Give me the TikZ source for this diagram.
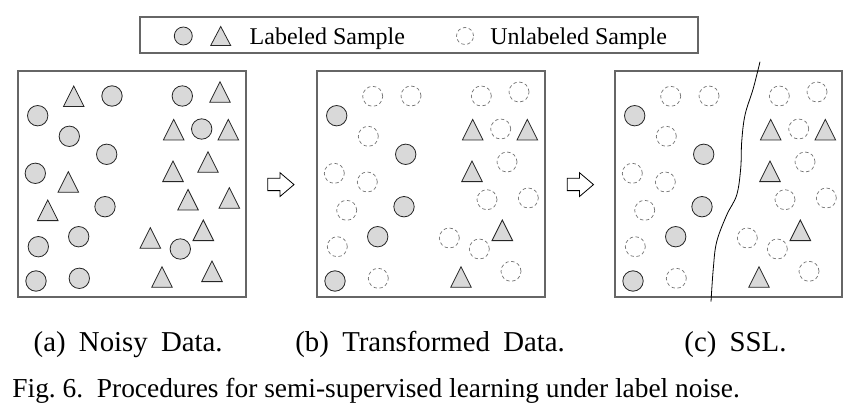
\documentclass[tikz,border=0pt]{standalone}
\usepackage{fontspec}
\setmainfont{Liberation Serif}
\newfontfamily\subcapfont[WordSpace=1.85]{Liberation Serif}
\newcommand\labc[2]{\draw[labstyle] (#1,#2) circle[radius=10.2pt];}
\newcommand\unlc[2]{\draw[unlstyle] (#1,#2) circle[radius=10pt];}
\newcommand\labt[2]{\draw[labstyle] ({#1-10.3},{#2+10.3}) -- (#1,{#2-10.3}) -- ({#1+10.3},{#2+10.3}) -- cycle;}
\newcommand\commonlabeled{%
  \labc{19.7}{115.7}\labc{88.7}{154.3}\labc{87}{206.7}\labc{60.7}{236.7}\labc{18}{281}%
  \labt{155.7}{129.7}\labt{210.3}{129.7}\labt{155}{171.3}\labt{185.3}{230.3}\labt{144}{277}}
\newcommand\commonunlabeled{%
  \unlc{94}{96}\unlc{51.3}{136.3}\unlc{17.3}{173.3}\unlc{20.3}{246.7}\unlc{61.3}{278.3}%
  \unlc{164.3}{96}\unlc{183.7}{129}\unlc{162.3}{249}%
  \unlc{55.7}{96.3}\unlc{50.3}{182}\unlc{29.7}{210.3}\unlc{202}{92}\unlc{190}{162}%
  \unlc{170}{199.7}\unlc{211.3}{198}\unlc{132.3}{238}\unlc{194}{271.3}}
\begin{document}
\frenchspacing
\begin{tikzpicture}[x=1pt,y=-1pt,
  panelbox/.style={draw=black!60,line width=1.2pt},
  labstyle/.style={draw=black!85,fill=black!15,line width=0.8pt},
  unlstyle/.style={draw=black!55,line width=0.7pt,dash pattern=on 3.4pt off 2.6pt},
  blockarrow/.style={draw=black,line width=0.8pt,fill=white},
  legtext/.style={anchor=base west,inner sep=0pt,font=\fontsize{24}{28}\selectfont},
  subcap/.style={anchor=base west,inner sep=0pt,font=\subcapfont\fontsize{28.8}{32}\selectfont},
  figcap/.style={anchor=base west,inner sep=0pt,font=\fontsize{27.4}{32}\selectfont},
]
\useasboundingbox (0,0) rectangle (866,414);
% legend
\draw[panelbox] (140,17) rectangle (698,53);
\draw[labstyle] (183.3,36) circle[radius=9pt];
\draw[labstyle] (210.7,45.5) -- (220.7,26.5) -- (230.7,45.5) -- cycle;
\node[legtext] (leglab) at (249.5,45) {Labeled Sample};
\draw[unlstyle] (465,36) circle[radius=8.5pt];
\node[legtext] (legunl) at (490.2,45) {Unlabeled Sample};
% panel (a)
\draw[panelbox] (18,71) rectangle (246,297);
\begin{scope}[xshift=18pt]
  \commonlabeled
  \labc{94}{96}\labc{51.3}{136.3}\labc{17.3}{173.3}\labc{20.3}{246.7}\labc{61.3}{278.3}
  \labc{164.3}{96}\labc{183.7}{129}\labc{162.3}{249}
  \labt{55.7}{96.3}\labt{50.3}{182}\labt{29.7}{210.3}\labt{202}{92}\labt{190}{162}
  \labt{170}{199.7}\labt{211.3}{198}\labt{132.3}{238}\labt{194}{271.3}
\end{scope}
% panel (b)
\draw[panelbox] (317,71) rectangle (545,297);
\begin{scope}[xshift=317pt]
  \commonunlabeled
  \commonlabeled
\end{scope}
% panel (c)
\draw[panelbox] (615,71) rectangle (842,297);
\begin{scope}[xshift=615pt]
  \commonunlabeled
  \commonlabeled
\end{scope}
\draw[line width=0.8pt] plot[smooth,tension=0.6] coordinates {(760,61.7) (753.3,88.3) (745,115) (741.7,141.7) (740.7,168.3) (736.7,195) (726.7,215) (716.7,241.7) (713.3,268.3) (711,301.7)};
% block arrows
\draw[blockarrow] (267.7,178.3) -- (280,178.3) -- (280,172.7) -- (294,184.6) -- (280,196.5) -- (280,190.6) -- (267.7,190.6) -- cycle;
\begin{scope}[xshift=299.5pt]
\draw[blockarrow] (267.7,178.3) -- (280,178.3) -- (280,172.7) -- (294,184.6) -- (280,196.5) -- (280,190.6) -- (267.7,190.6) -- cycle;
\end{scope}
% captions
\node[subcap] (capa) at (33.5,351.7) {(a) Noisy Data.};
\node[subcap] (capb) at (295.2,351.7) {(b) Transformed Data.};
\node[subcap] (capc) at (684.2,351.7) {(c) SSL.};
\node[figcap] (fig) at (12.2,397.3) {Fig. 6.\hspace{0.5em}Procedures for semi-supervised learning under label noise.};
\end{tikzpicture}
\end{document}
